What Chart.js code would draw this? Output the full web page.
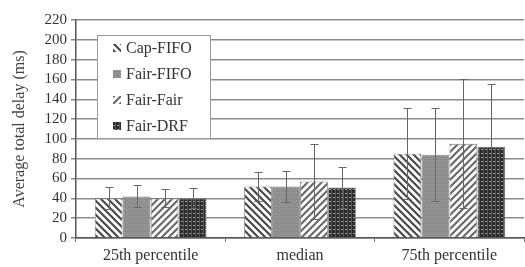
<!DOCTYPE html>
<html>
<head>
<meta charset="utf-8">
<script src="https://cdn.jsdelivr.net/npm/chart.js@4/dist/chart.umd.min.js"></script>
<style>
  html, body { margin: 0; padding: 0; background: #fff; }
  #wrap { width: 525px; height: 267px; }
</style>
</head>
<body>
<div id="wrap"><canvas id="chart" width="525" height="267"></canvas></div>
<script>
// categories and values
const groups = ["25th percentile", "median", "75th percentile"];
const seriesNames = ["Cap-FIFO", "Fair-FIFO", "Fair-Fair", "Fair-DRF"];

const capFifo = [40, 52, 85];
const fairFifo = [42, 52, 84];
const fairFair = [40, 57, 95];
const fairDrf = [40, 51, 92];

// +/- error for each bar
const capFifoErr = [11, 15, 46];
const fairFifoErr = [11, 16, 47];
const fairFairErr = [9, 38, 65];
const fairDrfErr = [10, 21, 63];

const yTicks = [0, 20, 40, 60, 80, 100, 120, 140, 160, 180, 200, 220];

const serif = "'Liberation Serif', 'Times New Roman', serif";

// little tile canvases for the hatch fills
function makeTile(size, draw) {
    const c = document.createElement('canvas');
    c.width = size; c.height = size;
    const g = c.getContext('2d');
    draw(g, size);
    return document.createElement('canvas').getContext('2d').createPattern(c, 'repeat');
}

const backslash = makeTile(7, (g, s) => {
    g.fillStyle = '#fff'; g.fillRect(0, 0, s, s);
    g.strokeStyle = '#4a4a4a'; g.lineWidth = 2.2;
    g.beginPath();
    g.moveTo(-s, 0); g.lineTo(s * 2, s * 3);
    g.moveTo(-s, -s); g.lineTo(s * 2, s * 2);
    g.moveTo(0, -s); g.lineTo(s * 2, s);
    g.stroke();
});

const greyDots = makeTile(4, (g, s) => {
    g.fillStyle = '#8e8e8e'; g.fillRect(0, 0, s, s);
    g.fillStyle = '#a4a4a4'; g.fillRect(0, 0, 1, 1);
    g.fillStyle = '#a4a4a4'; g.fillRect(2, 2, 1, 1);
    g.fillStyle = '#808080'; g.fillRect(1, 3, 1, 1);
});

const slash = makeTile(7, (g, s) => {
    g.fillStyle = '#fff'; g.fillRect(0, 0, s, s);
    g.strokeStyle = '#6a6a6a'; g.lineWidth = 2.2;
    g.beginPath();
    g.moveTo(-s, s); g.lineTo(s, -s);
    g.moveTo(-s, s * 2); g.lineTo(s * 2, -s);
    g.moveTo(0, s * 2); g.lineTo(s * 2, 0);
    g.stroke();
});

const darkGrid = makeTile(4, (g, s) => {
    g.fillStyle = '#2c2c2c'; g.fillRect(0, 0, s, s);
    g.fillStyle = '#9a9a9a'; g.fillRect(1, 1, 2, 1);
    g.fillStyle = '#555'; g.fillRect(3, 0, 1, 4);
});

const fills = [backslash, greyDots, slash, darkGrid];
const values = [capFifo, fairFifo, fairFair, fairDrf];
const errors = [capFifoErr, fairFifoErr, fairFairErr, fairDrfErr];

// error bars, drawn through the y scale
const errorBars = {
    id: 'errorBars',
    afterDatasetsDraw(chart) {
        const ctx = chart.ctx;
        const y = chart.scales.y;
        ctx.save();
        ctx.strokeStyle = '#666';
        ctx.lineWidth = 1;
        chart.data.datasets.forEach((ds, di) => {
            const meta = chart.getDatasetMeta(di);
            meta.data.forEach((bar, i) => {
                const v = ds.data[i], e = ds.errors[i];
                const yHi = Math.round(y.getPixelForValue(v + e)) + 0.5;
                const yLo = Math.round(y.getPixelForValue(v - e)) + 0.5;
                const x = Math.round(bar.x) + 0.5;
                ctx.beginPath();
                ctx.moveTo(x, yHi); ctx.lineTo(x, yLo);
                ctx.moveTo(x - 4, yHi); ctx.lineTo(x + 4, yHi);
                ctx.moveTo(x - 4, yLo); ctx.lineTo(x + 4, yLo);
                ctx.stroke();
            });
        });
        ctx.restore();
    }
};

// legend box sitting inside the plot, top-left
const innerLegend = {
    id: 'innerLegend',
    afterDraw(chart) {
        const ctx = chart.ctx;
        const area = chart.chartArea;
        const bx = area.left + 21, by = area.top + 15, bw = 113, bh = 103;
        ctx.save();
        ctx.fillStyle = '#fff';
        ctx.fillRect(bx, by, bw, bh);
        ctx.strokeStyle = '#9a9a9a';
        ctx.lineWidth = 1;
        ctx.strokeRect(bx + 0.5, by + 0.5, bw, bh);
        ctx.font = '16px ' + serif;
        ctx.textBaseline = 'middle';
        chart.data.datasets.forEach((ds, i) => {
            const cy = by + 13 + i * 26;
            ctx.fillStyle = ds.backgroundColor;
            ctx.fillRect(bx + 16, cy - 4, 8, 8);
            ctx.fillStyle = '#333';
            ctx.fillText(ds.label, bx + 29, cy + 1);
        });
        ctx.restore();
    }
};

const datasets = seriesNames.map((name, i) => ({
    label: name,
    data: values[i],
    errors: errors[i],
    backgroundColor: fills[i],
    borderColor: '#777',
    borderWidth: 0.8,
    categoryPercentage: 0.75,
    barPercentage: 0.99
}));

new Chart(document.getElementById('chart'), {
    type: 'bar',
    data: { labels: groups, datasets: datasets },
    plugins: [errorBars, innerLegend],
    options: {
        responsive: false,
        animation: false,
        layout: { padding: { top: 20, right: 1, left: 0, bottom: 0 } },
        plugins: {
            legend: { display: false },
            tooltip: { enabled: false }
        },
        scales: {
            x: {
                afterFit: (scale) => { scale.height = 29; },
                grid: { drawOnChartArea: false, drawTicks: true, tickLength: 4, color: '#777', offset: true },
                border: { display: true, color: '#555', width: 1.5 },
                ticks: { color: '#333', font: { family: serif, size: 16 }, padding: 4 }
            },
            y: {
                min: 0,
                max: 220,
                afterFit: (scale) => { scale.width = 76; },
                afterBuildTicks: (scale) => { scale.ticks = yTicks.map(v => ({ value: v })); },
                grid: { color: '#8a8a8a', lineWidth: 1.5, tickLength: 5 },
                border: { display: true, color: '#555', width: 1.5 },
                ticks: { color: '#333', font: { family: serif, size: 15, lineHeight: 1 }, padding: 4, autoSkip: false },
                title: {
                    display: true,
                    text: 'Average total delay (ms)',
                    color: '#444',
                    font: { family: serif, size: 16 },
                    padding: { top: 10, bottom: 0 }
                }
            }
        }
    }
});
</script>
</body>
</html>
